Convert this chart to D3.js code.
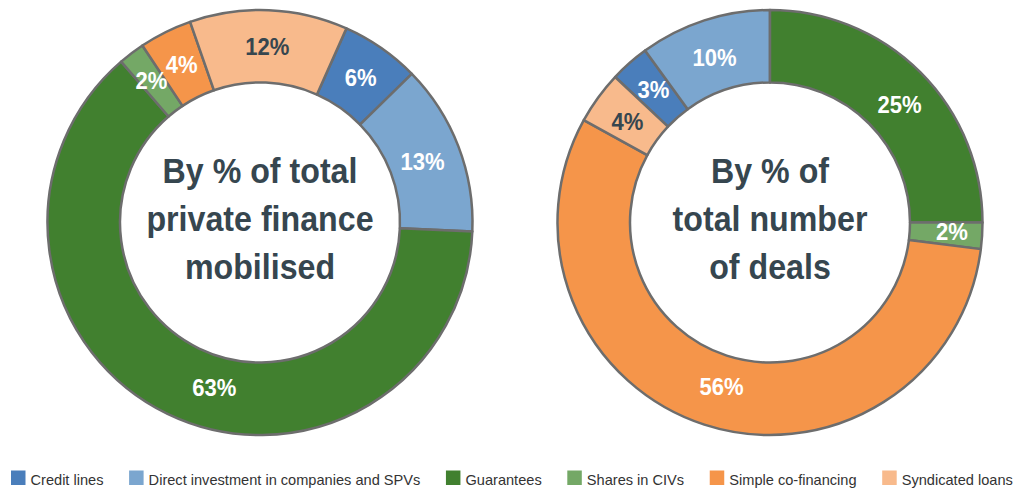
<!DOCTYPE html>
<html><head><meta charset="utf-8">
<script src="https://cdn.jsdelivr.net/npm/d3@7"></script>
<style>
html,body{margin:0;padding:0;background:#fff;}
svg{display:block;font-family:"Liberation Sans",Arial,sans-serif;}
</style></head>
<body><svg id="chart" width="1016" height="489"></svg>
<script>
const categories = ["Credit lines","Direct investment in companies and SPVs","Guarantees","Shares in CIVs","Simple co-financing","Syndicated loans"];
const financeValues = [6,13,63,2,4,12];
const dealsValues = [3,10,25,2,56,4];
const financeTitle = ["By % of total","private finance","mobilised"];
const dealsTitle = ["By % of","total number","of deals"];

// style: small label nudges (px) from the arc centroid, as placed in the original
const financeNudge = [[0,0],[-2,2],[31,6],[-2,-2],[0,0],[0,0]];
const dealsNudge = [[0,-1],[-1,2],[5,6],[6,-2],[6,-4],[0,2]];

const colors = ["#4a7ebb","#7ba6cf","#41802f","#74a866","#f5954a","#f8ba8c"];
const labelColors = ["#fff","#fff","#fff","#fff","#fff","#36464f"];
const textDark = "#36464f";

const svg = d3.select("#chart");
const color = d3.scaleOrdinal().domain(categories).range(colors);
const lblColor = d3.scaleOrdinal().domain(categories).range(labelColors);

function donut(cx, cy, values, startDeg, title, nudge) {
  const data = categories.map((c,i)=>({cat:c, value:values[i], nudge:nudge[i]}));
  const start = startDeg*Math.PI/180;
  const pie = d3.pie().value(d=>d.value).sort(null).startAngle(start).endAngle(start+2*Math.PI);
  const rO = 212.5, rI = 140;
  const arc = d3.arc().innerRadius(rI).outerRadius(rO);
  const g = svg.append("g").attr("transform",`translate(${cx},${cy})`);
  const arcs = pie(data);
  g.selectAll("path").data(arcs).join("path")
    .attr("d",arc).attr("fill",d=>color(d.data.cat))
    .attr("stroke","#6d6d6d").attr("stroke-width",2.5).attr("stroke-linejoin","round");
  g.selectAll("text.lbl").data(arcs).join("text").attr("class","lbl")
    .attr("transform",d=>{const [x,y]=arc.centroid(d);return `translate(${x+d.data.nudge[0]},${y+d.data.nudge[1]}) scale(0.92,1)`;})
    .attr("text-anchor","middle").attr("dy","0.36em")
    .attr("font-size",24).attr("font-weight","bold")
    .attr("fill",d=>lblColor(d.data.cat))
    .text(d=>d.data.value+"%");
  const lineY = [-40,8,56];
  g.selectAll("text.ttl").data(title).join("text").attr("class","ttl")
    .attr("transform",(d,i)=>`translate(0,${lineY[i]}) scale(0.92,1)`)
    .attr("text-anchor","middle").attr("font-size",35).attr("font-weight","bold")
    .attr("fill",textDark).text(d=>d);
}
donut(260,222.5,financeValues,24,financeTitle,financeNudge);
donut(770,222.5,dealsValues,-46.8,dealsTitle,dealsNudge);

// legend
const lg = svg.append("g").attr("class","legend");
let x = 11;
categories.forEach(c=>{
  const it = lg.append("g").attr("transform",`translate(${x},0)`);
  it.append("rect").attr("x",0).attr("y",470.5).attr("width",14.5).attr("height",14.5).attr("fill",color(c));
  const t = it.append("text").attr("x",19.5).attr("y",484.5).attr("font-size",14.6).attr("fill","#333").text(c);
  const w = t.node().getComputedTextLength();
  x += 19.5 + w + 25.6;
});
</script></body></html>
